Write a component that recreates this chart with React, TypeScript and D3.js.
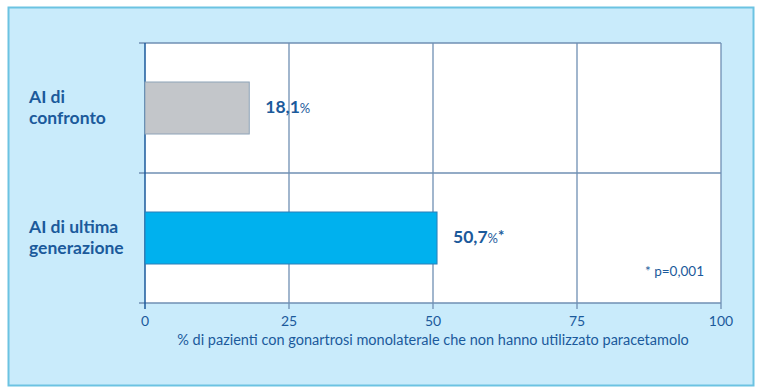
import React from 'react';
import * as d3 from 'd3';

const categories = [['AI di', 'confronto'], ['AI di ultima', 'generazione']];
const values = [18.1, 50.7];
const valueLabels = ['18,1', '50,7'];
const valueMarks = ['', '*'];
const barColors = ['#c3c6ca', '#00b1ee'];
const xTicks = [0, 25, 50, 75, 100];

const W = 760;
const H = 391;
const margin = { left: 145, right: 39, top: 43, bottom: 88 };
const textColor = '#1b5a9b';
const gridColor = '#6f8fb3';
const font = 'Lato, "Open Sans", sans-serif';

export default function App() {
  const x = d3.scaleLinear().domain([0, 100]).range([margin.left, W - margin.right]);
  const y = d3.scaleBand().domain(['0', '1']).range([margin.top, H - margin.bottom]).paddingInner(0).paddingOuter(0);
  const bandH = y.bandwidth();
  const barH = bandH * 0.4;
  const bottom = H - margin.bottom;

  return (
    <svg width={W} height={H} style={{ position: 'absolute', left: 0, top: 0, background: '#fff' }} fontFamily={font}>
      <rect x={8.5} y={7.5} width={745} height={378} fill="#c9ebfb" stroke="#6cc3e2" strokeWidth={2} />
      <rect x={margin.left} y={margin.top} width={x(100) - x(0)} height={bottom - margin.top} fill="#fff" />
      {/* vertical grid */}
      {xTicks.slice(1).map(t => (
        <line key={t} x1={x(t)} x2={x(t)} y1={margin.top} y2={bottom + 6} stroke={gridColor} strokeWidth={1.3} />
      ))}
      {/* horizontal grid: band boundaries */}
      {[margin.top, margin.top + bandH, bottom].map((yy, i) => (
        <line key={i} x1={margin.left - 6} x2={x(100)} y1={yy} y2={yy} stroke={gridColor} strokeWidth={1.3} />
      ))}
      <line x1={margin.left} x2={margin.left} y1={margin.top} y2={bottom + 6} stroke={textColor} strokeWidth={1.5} />
      {/* bars */}
      {values.map((v, i) => {
        const yc = (y(String(i)) as number) + bandH / 2;
        return (
          <g key={i}>
            <rect x={x(0)} y={yc - barH / 2} width={x(v) - x(0)} height={barH} fill={barColors[i]} stroke={i === 0 ? '#8ea3b8' : '#2a7fb8'} strokeWidth={1} />
            <text x={x(v) + 16} y={yc + 5} fill={textColor} fontWeight="bold" fontSize={17.5}>
              {valueLabels[i]}
              <tspan fontSize={13} fontWeight="normal">%</tspan>
              {valueMarks[i] && <tspan fontSize={15} dy={-2}>{valueMarks[i]}</tspan>}
            </text>
            <text x={29} y={yc - 5} fill={textColor} fontWeight="bold" fontSize={17.5}>
              <tspan x={29}>{categories[i][0]}</tspan>
              <tspan x={29} dy={20.5}>{categories[i][1]}</tspan>
            </text>
          </g>
        );
      })}
      {/* tick labels */}
      {xTicks.map(t => (
        <text key={t} x={x(t)} y={bottom + 23} textAnchor="middle" fill={textColor} fontSize={14}>{t}</text>
      ))}
      <text x={(x(0) + x(100)) / 2} y={bottom + 42} textAnchor="middle" fill={textColor} fontSize={14.5}>
        % di pazienti con gonartrosi monolaterale che non hanno utilizzato paracetamolo
      </text>
      <text x={x(100) - 17} y={bottom - 27} textAnchor="end" fill={textColor} fontSize={13.5}>* p=0,001</text>
    </svg>
  );
}
